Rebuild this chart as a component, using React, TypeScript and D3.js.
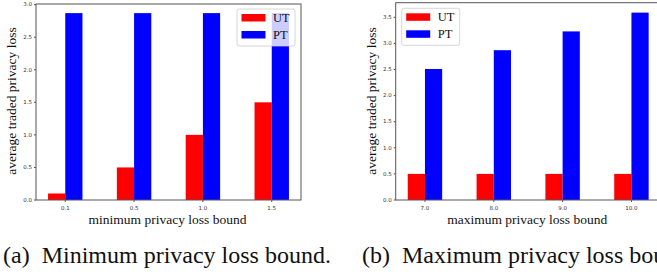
import React, { useEffect, useRef } from 'react';
import * as d3 from 'd3';

// left panel: minimum privacy loss bound
const minBounds = ['0.1', '0.5', '1.0', '1.5'];
const minUT = [0.1, 0.5, 1.0, 1.5];
const minPT = [2.87, 2.87, 2.87, 2.87];

// right panel: maximum privacy loss bound
const maxBounds = ['7.0', '8.0', '9.0', '10.0'];
const maxUT = [0.5, 0.5, 0.5, 0.5];
const maxPT = [2.51, 2.87, 3.23, 3.59];

const seriesNames = ['UT', 'PT'];
const colors = ['#ff0000', '#0000ff'];

const serif = '"Liberation Serif", "Times New Roman", serif';
const sans = '"DejaVu Sans", sans-serif';

export default function App() {
    const ref = useRef<SVGSVGElement>(null);

    useEffect(() => {
        const svg = d3.select(ref.current);
        svg.selectAll('*').remove();

        const panels = [
            { left: 36, top: 4, cats: minBounds, ut: minUT, pt: minPT, ymax: 3.01, yticks: d3.range(0, 3.01, 0.5),
              xlabel: 'minimum privacy loss bound', legendX: 237, legendY: 9, caption: '(a)  Minimum privacy loss bound.', capX: 3 },
            { left: 395.7, top: 2.7, cats: maxBounds, ut: maxUT, pt: maxPT, ymax: 3.78, yticks: d3.range(0, 3.51, 0.5),
              xlabel: 'maximum privacy loss bound', legendX: 401.7, legendY: 8.3, caption: '(b)  Maximum privacy loss bound.', capX: 362 },
        ];

        const width = 265, bottom = 200, barW = 0.25;

        panels.forEach((p) => {
            const g = svg.append('g');
            const x = d3.scaleLinear().domain([-0.425, 3.425]).range([p.left, p.left + width]);
            const y = d3.scaleLinear().domain([0, p.ymax]).range([bottom, p.top]);

            // bars
            [p.ut, p.pt].forEach((vals, s) => {
                g.selectAll('rect.s' + s)
                    .data(vals)
                    .enter().append('rect')
                    .attr('x', (d, i) => x(i - barW + s * barW))
                    .attr('width', x(barW) - x(0))
                    .attr('y', (d) => y(d))
                    .attr('height', (d) => y(0) - y(d))
                    .attr('fill', colors[s]);
            });

            // frame
            g.append('rect')
                .attr('x', p.left).attr('y', p.top)
                .attr('width', width).attr('height', bottom - p.top)
                .attr('fill', 'none').attr('stroke', '#555').attr('stroke-width', 1);

            // y ticks
            const yt = g.selectAll('g.yt').data(p.yticks).enter().append('g')
                .attr('transform', (d) => `translate(0,${y(d)})`);
            yt.append('line').attr('x1', p.left - 2).attr('x2', p.left).attr('stroke', '#555');
            yt.append('text').attr('x', p.left - 4).attr('dy', '0.32em')
                .attr('text-anchor', 'end').attr('font-family', sans).attr('font-size', 5.5)
                .attr('fill', '#333').text((d) => d3.format('.1f')(d));

            // x ticks
            const xt = g.selectAll('g.xt').data(p.cats).enter().append('g')
                .attr('transform', (d, i) => `translate(${x(i)},0)`);
            xt.append('line').attr('y1', bottom).attr('y2', bottom + 2).attr('stroke', '#555');
            xt.append('text').attr('y', bottom + 10).attr('text-anchor', 'middle')
                .attr('font-family', sans).attr('font-size', 5.5).attr('fill', '#333').text((d) => d);

            // axis labels
            g.append('text').attr('x', p.left + width / 2 - 1).attr('y', 224)
                .attr('text-anchor', 'middle').attr('font-family', serif).attr('font-size', 13.5)
                .attr('fill', '#111').text(p.xlabel);
            g.append('text')
                .attr('transform', `translate(${p.left - 20},${101}) rotate(-90)`)
                .attr('text-anchor', 'middle').attr('font-family', serif).attr('font-size', 13.5)
                .attr('fill', '#111').text('average traded privacy loss');

            // legend
            const lg = g.append('g').attr('transform', `translate(${p.legendX},${p.legendY})`);
            lg.append('rect').attr('width', 58).attr('height', 37).attr('rx', 2)
                .attr('fill', 'white').attr('fill-opacity', 0.8).attr('stroke', '#ccc').attr('stroke-width', 0.8);
            seriesNames.forEach((name, s) => {
                lg.append('rect').attr('x', 4.5).attr('y', 5 + s * 17).attr('width', 24).attr('height', 7.5)
                    .attr('fill', colors[s]);
                lg.append('text').attr('x', 36).attr('y', 13 + s * 17)
                    .attr('font-family', serif).attr('font-size', 12.5).attr('fill', '#111').text(name);
            });

            // caption
            svg.append('text').attr('x', p.capX).attr('y', 262.5)
                .attr('font-family', serif).attr('font-size', 24).attr('fill', '#111')
                .style('white-space', 'pre').text(p.caption);
        });
    }, []);

    return (
        <svg ref={ref} width={657} height={274}
            style={{ position: 'absolute', left: 0, top: 0, background: 'white' }} />
    );
}
